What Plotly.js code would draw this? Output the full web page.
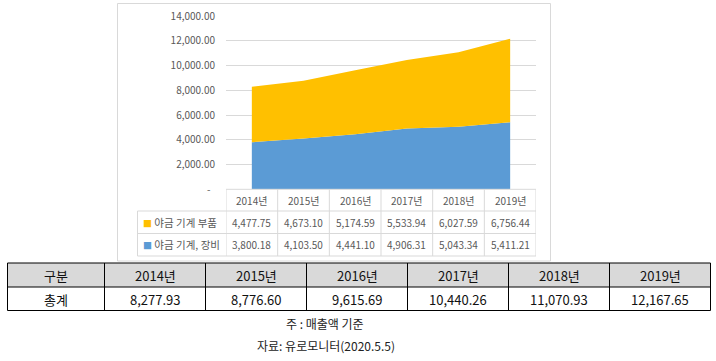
<!DOCTYPE html>
<html><head><meta charset="utf-8">
<script src="https://cdn.plot.ly/plotly-3.0.1.min.js"></script>
<style>html,body{margin:0;padding:0;background:#fff;overflow:hidden}#chart{width:716px;height:361px}</style>
</head><body><div id="chart"></div>
<script>
// ---- data ----
const years = ['2014년', '2015년', '2016년', '2017년', '2018년', '2019년'];
const partsName = '야금 기계 부품';
const equipName = '야금 기계, 장비';
const parts = [4477.75, 4673.10, 5174.59, 5533.94, 6027.59, 6756.44];
const equipment = [3800.18, 4103.50, 4441.10, 4906.31, 5043.34, 5411.21];
const totals = [8277.93, 8776.60, 9615.69, 10440.26, 11070.93, 12167.65];
const yTicks = [0, 2000, 4000, 6000, 8000, 10000, 12000, 14000];
const totalHeader = '구분';
const totalLabel = '총계';
const noteText = '주 : 매출액 기준';
const sourceText = '자료: 유로모니터(2020.5.5)';

// ---- helpers ----
const W = 716, H = 361;
const px = x => x / W;
const py = y => 1 - y / H;
const fmt = v => v.toLocaleString('en-US', {minimumFractionDigits: 2, maximumFractionDigits: 2});
const tickFmt = v => v === 0 ? '-\u00a0\u00a0' : fmt(v);
const FONT = "'Noto Sans CJK KR', 'Noto Sans', sans-serif";
const GRAY = '#595959';
const LINE = '#d9d9d9';
const ORANGE = '#FFC000';
const BLUE = '#5B9BD5';

const plotX0 = 226, plotX1 = 536;
const legendX0 = 137.5;
// in-chart data table rows (pixel y)
const dtTop = 189.3, dtRows = [211, 233.5, 256];
// totals table
const tX0 = 7.5, tW = [97, 101, 101, 101, 101, 101, 101];
const tTop = 263, tMid = 287, tBot = 310.5;

const shapes = [];
const annotations = [];
const hline = (x0, x1, y, color, xref) => shapes.push({type: 'line', xref: xref || 'paper', yref: 'paper',
  x0: x0, x1: x1, y0: py(y), y1: py(y), line: {color: color, width: 1}});
const vline = (x, y0, y1, color, xref) => shapes.push({type: 'line', xref: xref || 'paper', yref: 'paper',
  x0: x, x1: x, y0: py(y0), y1: py(y1), line: {color: color, width: 1}});
const text = (x, y, t, opts) => annotations.push(Object.assign({xref: 'paper', yref: 'paper', x: x, y: py(y),
  text: t, showarrow: false, xanchor: 'center', yanchor: 'middle',
  font: {family: FONT, size: 10, color: GRAY}}, opts || {}));

// chart frame
shapes.push({type: 'rect', xref: 'paper', yref: 'paper', x0: px(117.5), x1: px(550.5), y0: py(261), y1: py(3.5),
  line: {color: LINE, width: 1}, fillcolor: 'rgba(0,0,0,0)', layer: 'below'});

// in-chart data table grid
hline(-0.5, years.length - 0.5, dtTop, LINE, 'x');
dtRows.forEach(y => hline(px(legendX0), px(plotX1), y, LINE));
vline(px(legendX0), dtRows[0], dtRows[2], LINE);
for (let i = 0; i <= years.length; i++) vline(i - 0.5, dtTop, dtRows[2], LINE, 'x');

// in-chart data table texts
const rowMid = [(dtTop + dtRows[0]) / 2, (dtRows[0] + dtRows[1]) / 2, (dtRows[1] + dtRows[2]) / 2];
years.forEach((yr, i) => {
  text(i, rowMid[0], yr, {xref: 'x'});
  text(i, rowMid[1], fmt(parts[i]), {xref: 'x'});
  text(i, rowMid[2], fmt(equipment[i]), {xref: 'x'});
});
const sq = c => '<span style="color:' + c + ';font-size:9px">■</span>\u00a0';
const legFont = {family: FONT, size: 10.5, color: GRAY};
text(px(141), rowMid[1], sq(ORANGE) + partsName, {xanchor: 'left', font: legFont});
text(px(141), rowMid[2], sq(BLUE) + equipName, {xanchor: 'left', font: legFont});

// totals table
const tEdges = [tX0];
tW.forEach(w => tEdges.push(tEdges[tEdges.length - 1] + w));
shapes.push({type: 'rect', xref: 'paper', yref: 'paper', x0: px(tX0), x1: px(tEdges[tEdges.length - 1]),
  y0: py(tMid), y1: py(tTop), fillcolor: '#D9D9D9', line: {width: 0}, layer: 'below'});
[tTop, tMid, tBot].forEach(y => hline(px(tX0), px(tEdges[tEdges.length - 1]), y, '#000000'));
tEdges.forEach(x => vline(px(x), tTop, tBot, '#000000'));
const headRow = [totalHeader].concat(years);
const bodyRow = [totalLabel].concat(totals.map(fmt));
const tFont = {family: FONT, size: 13, color: '#111111'};
headRow.forEach((t, i) => text(px((tEdges[i] + tEdges[i + 1]) / 2), (tTop + tMid) / 2 + 0.5, t, {font: tFont}));
bodyRow.forEach((t, i) => text(px((tEdges[i] + tEdges[i + 1]) / 2), (tMid + tBot) / 2 + 0.5, t, {font: tFont}));

// notes
const nFont = {family: FONT, size: 12, color: '#222222'};
text(px(325), 323.5, noteText, {font: nFont});
text(px(326), 345.5, sourceText, {font: nFont});

const traces = [
  {type: 'scatter', x: years, y: equipment, name: equipName, stackgroup: 'one',
   mode: 'none', fillcolor: BLUE, line: {width: 0}, hoverinfo: 'skip'},
  {type: 'scatter', x: years, y: parts, name: partsName, stackgroup: 'one',
   mode: 'none', fillcolor: ORANGE, line: {width: 0}, hoverinfo: 'skip'}
];

const layout = {
  width: W, height: H,
  margin: {l: 0, r: 0, t: 0, b: 0},
  paper_bgcolor: '#ffffff', plot_bgcolor: 'rgba(0,0,0,0)',
  showlegend: false,
  font: {family: FONT, color: GRAY},
  xaxis: {domain: [px(plotX0), px(plotX1)], type: 'category', range: [-0.5, years.length - 0.5],
          showgrid: false, zeroline: false, showline: false, showticklabels: false, ticks: '',
          fixedrange: true},
  yaxis: {domain: [py(189.3), py(16)], range: [0, 14000], tickvals: yTicks, ticktext: yTicks.map(tickFmt),
          showgrid: true, gridcolor: LINE, gridwidth: 1, zeroline: false, showline: false,
          ticks: '', ticklabelstandoff: 10, tickfont: {family: FONT, size: 10, color: GRAY},
          fixedrange: true},
  shapes: shapes,
  annotations: annotations
};

Plotly.newPlot('chart', traces, layout, {displayModeBar: false, staticPlot: true});
</script></body></html>
